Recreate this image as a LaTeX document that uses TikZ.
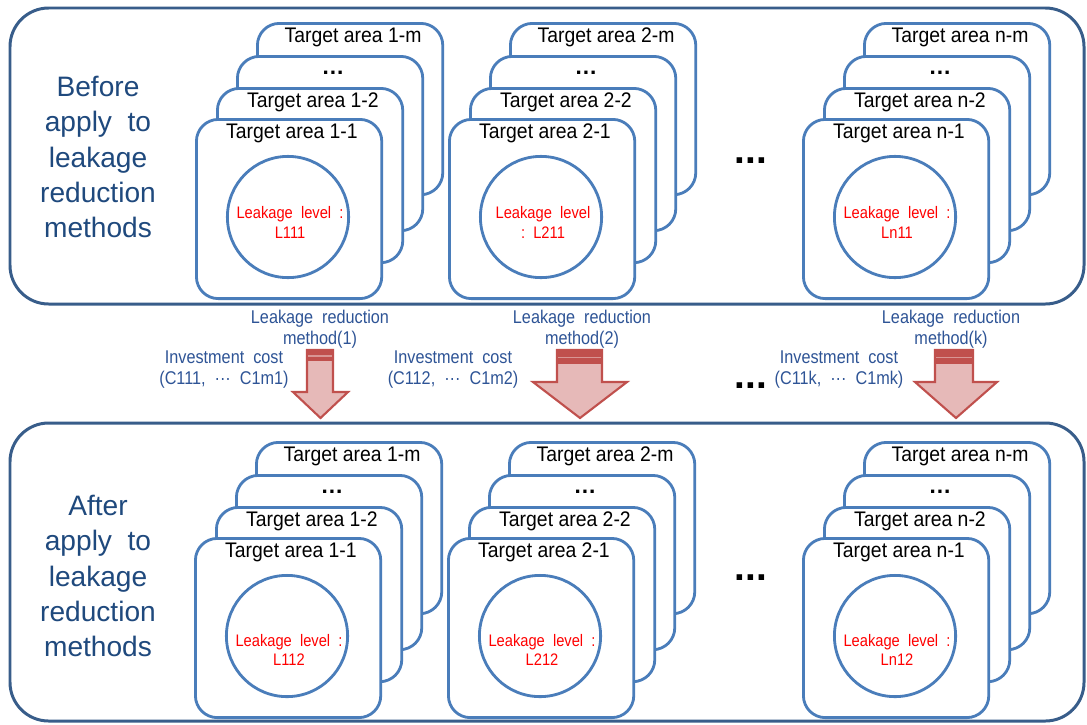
\documentclass[tikz,border=0pt]{standalone}
\usepackage{fontspec}
\setmainfont{Liberation Sans}
\newfontfamily\condfont{Liberation Sans}[FakeStretch=0.88]
\newfontfamily\labfont{Liberation Sans}[FakeStretch=0.92]
\definecolor{boxblue}{RGB}{74,125,186}
\definecolor{outblue}{RGB}{56,93,138}
\definecolor{navy}{RGB}{31,73,125}
\definecolor{midblue}{RGB}{46,84,150}
\definecolor{arrowpink}{RGB}{230,185,184}
\definecolor{arrowred}{RGB}{192,80,77}
\definecolor{arrowlight}{RGB}{217,150,148}
\tikzset{
 tbox/.style={draw=boxblue, line width=1.6pt, fill=white, rounded corners=12.5pt,
   minimum width=105.5pt, anchor=north west, inner sep=0pt},
 circ/.style={circle, draw=boxblue, line width=1.6pt, minimum size=69pt, inner sep=0pt},
 tlab/.style={font=\labfont\fontsize{12}{14}\selectfont, text=black, inner sep=0pt},
 rlab/.style={font=\condfont\fontsize{9.5}{11.2}\selectfont, text=red, align=center, inner sep=0pt},
 mlab/.style={font=\condfont\fontsize{10.5}{12}\selectfont, text=midblue, align=center, inner sep=0pt},
 side/.style={font=\fontsize{16}{20}\selectfont, text=navy, align=center, inner sep=0pt},
 outer/.style={draw=outblue, line width=1.7pt, rounded corners=22pt},
 barrow/.style={fill=arrowpink, draw=arrowred, line width=1.2pt, line join=miter},
 band/.style={fill=arrowred, draw=arrowred, line width=1.2pt},
 bigdots/.style={font=\bfseries\fontsize{22}{22}\selectfont, inner sep=0pt},
 smalldots/.style={font=\bfseries\fontsize{13}{13}\selectfont, inner sep=0pt},
}
\newcommand\drawstack[6]{%
 \node[tbox, minimum height=97.5pt] (#3m) at ({#1+61},{#2-96}) {};
 \node[tlab] (#3ml) at ({#1+158},{#2-81}) {Target area #4-m};
 \node[tbox, minimum height=99.2pt] (#3d) at ({#1+41},{#2-63}) {};
 \node[smalldots] (#3dl) at ({#1+138},{#2-45}) {…};
 \node[tbox, minimum height=99.2pt] (#3b) at ({#1+21},{#2-31}) {};
 \node[tlab] (#3bl) at ({#1+118},{#2-16}) {Target area #4-2};
 \node[tbox, minimum height=102pt] (#3a) at (#1,#2) {};
 \node[tlab] (#3al) at ({#1+97},{#2+15}) {Target area #4-1};
 \node[circ] (#3c) at ({#1+93},{#2+99}) {};
 \node[rlab] (#3t) at ({#1+95},{#2+99+#6}) {#5};
}
\newcommand\blockarrow[8]{%
 \filldraw[barrow] (#1,350) -- (#2,350) -- (#2,#4) -- (#6,#4) -- (#7,418) -- (#5,#4) -- (#1,#4) -- cycle;
 \filldraw[band] (#1,350) rectangle (#2,#3);
 \draw[arrowlight, line width=0.8pt] ({#1+1},{(350+#3)/2+1}) -- ({#2-1},{(350+#3)/2+1});
 \coordinate (#8) at (#7,418);
}
\begin{document}
\begin{tikzpicture}[x=0.02cm,y=-0.02cm]
\useasboundingbox (0,0) rectangle (1087,724);
\fill[white] (0,0) rectangle (1087,724);
% outer boxes
\draw[outer] (10,8) rectangle (1084,304);
\draw[outer] (10,423) rectangle (1084,721);
% side texts
\node[side] (before) at (98,157) {Before\\apply\ \ to\\leakage\\reduction\\methods};
\node[side] (after) at (98,576) {After\\apply\ \ to\\leakage\\reduction\\methods};
% top stacks
\drawstack{195}{118}{ta}{1}{Leakage\ \ level\ \ :\\L111}{5.5}
\drawstack{448}{118}{tb}{2}{Leakage\ \ level\\:\ \ L211}{5.5}
\drawstack{802}{118}{tn}{n}{Leakage\ \ level\ \ :\\Ln11}{5.5}
\node[bigdots] (tdots) at (751,161) {...};
% bottom stacks
\drawstack{194}{537}{ba}{1}{Leakage\ \ level\ \ :\\L112}{14}
\drawstack{447}{537}{bb}{2}{Leakage\ \ level\ \ :\\L212}{14}
\drawstack{802}{537}{bn}{n}{Leakage\ \ level\ \ :\\Ln12}{14}
\node[bigdots] (bdots) at (751,578) {...};
% arrows
\blockarrow{307}{333}{360}{392}{293}{348}{320.5}{tip1}
\blockarrow{557}{602}{363}{382}{533}{627}{580}{tip2}
\blockarrow{935}{973}{363}{382}{915}{997}{956}{tipk}
% middle labels
\node[mlab] (m1) at (320,329) {Leakage\ \ reduction\\method(1)};
\node[mlab] (i1) at (224,370) {Investment\ \ cost\\(C111,\ \ ···\ \ C1m1)};
\node[mlab] (m2) at (582,329) {Leakage\ \ reduction\\method(2)};
\node[mlab] (i2) at (453,370) {Investment\ \ cost\\(C112,\ \ ···\ \ C1m2)};
\node[mlab] (mk) at (951,329) {Leakage\ \ reduction\\method(k)};
\node[mlab] (ik) at (839,370) {Investment\ \ cost\\(C11k,\ \ ···\ \ C1mk)};
\node[bigdots] (mdots) at (751,386) {...};
\end{tikzpicture}
\end{document}
